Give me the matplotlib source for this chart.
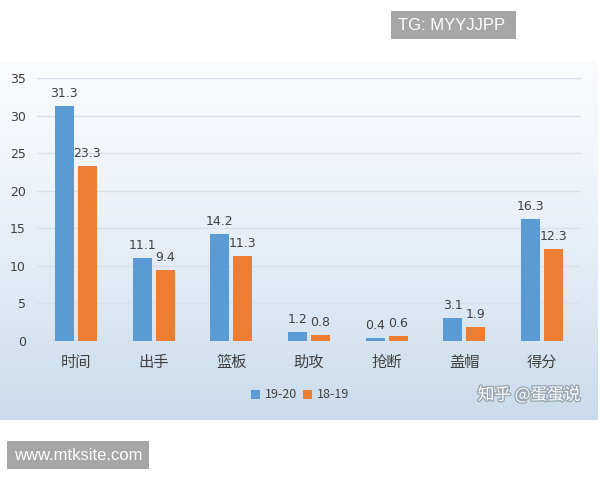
import numpy as np
import matplotlib
matplotlib.use("Agg")
from matplotlib import pyplot as plt
import matplotlib.patheffects as pe

plt.rcParams['font.family'] = ['Noto Sans CJK SC', 'DejaVu Sans']

categories = ["时间", "出手", "篮板", "助攻", "抢断", "盖帽", "得分"]
season_1920 = [31.3, 11.1, 14.2, 1.2, 0.4, 3.1, 16.3]
season_1819 = [23.3, 9.4, 11.3, 0.8, 0.6, 1.9, 12.3]
series_names = ["19-20", "18-19"]
yticks = [0, 5, 10, 15, 20, 25, 30, 35]

blue = "#5B9BD5"
orange = "#ED7D31"
text_col = "#404040"

fig = plt.figure(figsize=(6, 4.8), dpi=100)
fig.patch.set_facecolor("white")

# chart panel with light blue gradient (white-ish at top, bluer at bottom)
bg = fig.add_axes([0, 1 - 420 / 480, 598 / 600, 359 / 480])
grad = np.linspace(0, 1, 256).reshape(-1, 1)
top_c = np.array([0.975, 0.982, 0.992])
bot_c = np.array([0.79, 0.86, 0.925])
img = top_c + (bot_c - top_c) * grad[..., None] ** 1.4
bg.imshow(img, aspect="auto", extent=[0, 1, 0, 1], origin="upper")
bg.set_xlim(0, 1)
bg.set_ylim(0, 1)
bg.axis("off")

ax = fig.add_axes([37 / 600, 1 - 341 / 480, 544 / 600, 263 / 480])
ax.patch.set_alpha(0)
x = np.arange(len(categories))
w = 0.245
off = 0.148
b1 = ax.bar(x - off, season_1920, w, color=blue, label=series_names[0], zorder=3)
b2 = ax.bar(x + off, season_1819, w, color=orange, label=series_names[1], zorder=3)
for bars, vals in ((b1, season_1920), (b2, season_1819)):
    for r, v in zip(bars, vals):
        ax.text(r.get_x() + r.get_width() / 2, v + 0.8, f"{v}", ha="center", va="bottom",
                fontsize=9, color=text_col, family=['DejaVu Sans'])

ax.set_ylim(0, 35)
ax.set_xlim(-0.5, 6.5)
ax.set_yticks(yticks)
ax.set_yticklabels([str(t) for t in yticks], fontsize=9, color=text_col, family=['DejaVu Sans'])
ax.set_xticks(x)
ax.set_xticklabels(categories, fontsize=11, color=text_col)
ax.tick_params(length=0)
ax.tick_params(axis="x", pad=9)
ax.tick_params(axis="y", pad=8)
ax.yaxis.grid(True, color="#D8E1EA", linewidth=1, zorder=0)
for s in ax.spines.values():
    s.set_visible(False)
ax.axhline(0, color="#C8D4E0", linewidth=1, zorder=2)

leg = fig.legend(loc="center", bbox_to_anchor=(0.5, 1 - 395 / 480), ncol=2, frameon=False,
                 fontsize=9, handlelength=0.7, handleheight=0.7, handletextpad=0.4,
                 columnspacing=0.5)
for t in leg.get_texts():
    t.set_color(text_col)

fig.text(529 / 600, 1 - 395 / 480, "知乎 @蛋蛋说", ha="center", va="center", fontsize=12,
         color="white", path_effects=[pe.withStroke(linewidth=2, foreground="#9AA8B4")])

# overlay tags
fig.text(398 / 600, 1 - 25 / 480, "TG: MYYJJPP ", ha="left", va="center", fontsize=12,
         color="white", family=['Liberation Sans'],
         bbox=dict(boxstyle="square,pad=0.4", facecolor="#A6A6A6", edgecolor="none"))
fig.text(14 / 600, 1 - 455 / 480, "www.mtksite.com", ha="left", va="center", fontsize=12,
         color="white", family=['Liberation Sans'],
         bbox=dict(boxstyle="square,pad=0.4", facecolor="#A6A6A6", edgecolor="none"))

fig.savefig("out.png", dpi=100)
